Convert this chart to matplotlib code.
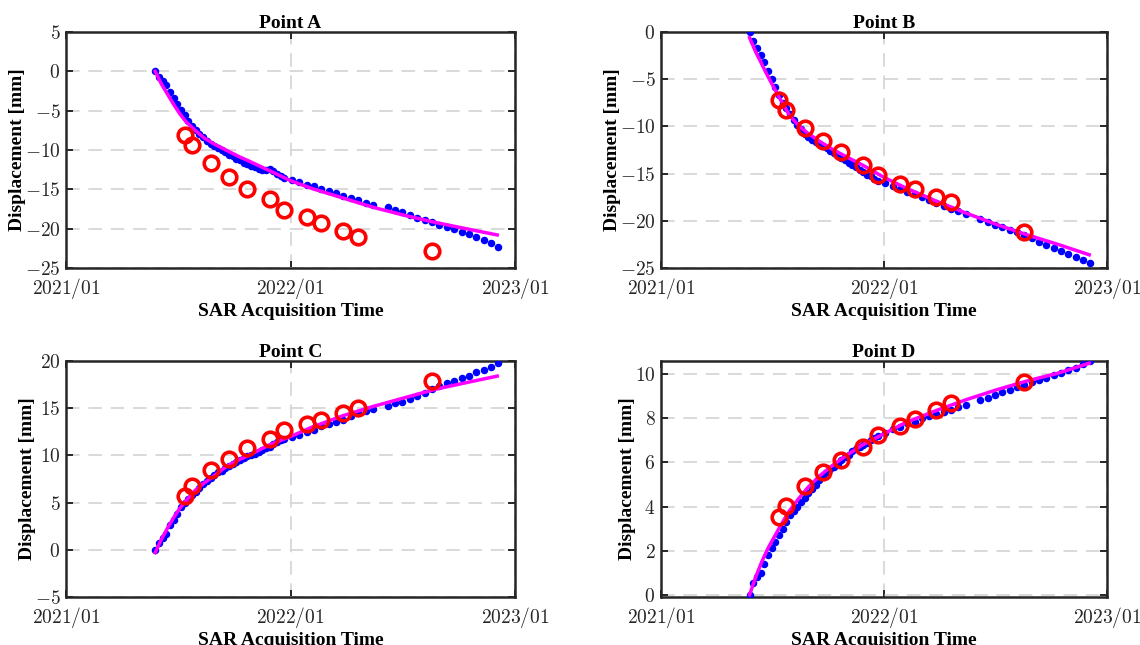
import numpy as np
import pandas as pd
import matplotlib
matplotlib.use('Agg')
import matplotlib.pyplot as plt
import matplotlib.dates as mdates
from matplotlib.ticker import FuncFormatter, MultipleLocator

plt.rcParams['font.family'] = ['Liberation Serif', 'DejaVu Serif']
plt.rcParams['mathtext.fontset'] = 'cm'

# SAR acquisition dates (blue time series)
sar_dates = [
    '2021-05-26', '2021-06-01', '2021-06-07', '2021-06-13', '2021-06-19', '2021-06-25',
    '2021-07-01', '2021-07-07', '2021-07-13', '2021-07-19', '2021-07-25', '2021-07-31',
    '2021-08-06', '2021-08-12', '2021-08-18', '2021-08-24', '2021-08-30', '2021-09-05',
    '2021-09-11', '2021-09-17', '2021-09-23', '2021-09-29', '2021-10-05', '2021-10-11',
    '2021-10-17', '2021-10-23', '2021-10-29', '2021-11-04', '2021-11-10', '2021-11-16',
    '2021-11-22', '2021-11-28', '2021-12-04', '2021-12-10', '2021-12-16', '2021-12-22',
    '2022-01-03', '2022-01-15', '2022-01-27', '2022-02-08', '2022-02-20', '2022-03-04',
    '2022-03-16', '2022-03-28', '2022-04-09', '2022-04-21', '2022-05-03', '2022-05-15',
    '2022-06-08', '2022-06-20', '2022-07-02', '2022-07-14', '2022-07-26', '2022-08-07',
    '2022-08-19', '2022-08-31', '2022-09-12', '2022-09-24', '2022-10-06', '2022-10-18',
    '2022-10-30', '2022-11-11', '2022-11-23', '2022-12-05',
]

sar_a = [0.0, -0.7, -1.2, -1.7, -2.6, -3.4, -4.1, -4.9, -5.6, -6.3, -6.9, -7.5,
         -8.0, -8.4, -8.8, -9.2, -9.5, -9.8, -10.0, -10.3, -10.6, -10.8, -11.1, -11.3,
         -11.6, -11.8, -12.0, -12.2, -12.4, -12.5, -12.6, -12.4, -12.7, -13.0, -13.3, -13.5,
         -13.8, -14.1, -14.4, -14.6, -14.9, -15.2, -15.5, -15.8, -16.1, -16.4, -16.7, -17.0,
         -17.3, -17.6, -17.9, -18.2, -18.6, -18.9, -19.2, -19.5, -19.8, -20.1, -20.4, -20.7,
         -21.0, -21.4, -21.8, -22.3]
sar_b = [0.0, -1.0, -1.7, -2.4, -3.2, -4.1, -5.0, -5.8, -6.7, -7.5, -8.1, -8.7,
         -9.3, -9.8, -10.3, -10.8, -11.1, -11.4, -11.7, -11.9, -12.1, -12.3, -12.6, -12.8,
         -13.1, -13.3, -13.6, -13.9, -14.1, -14.3, -14.6, -14.8, -15.1, -15.3, -15.6, -15.8,
         -16.0, -16.3, -16.6, -16.9, -17.2, -17.5, -17.8, -18.1, -18.4, -18.8, -19.0, -19.3,
         -19.8, -20.1, -20.4, -20.7, -21.0, -21.2, -21.5, -21.8, -22.2, -22.6, -22.9, -23.2,
         -23.5, -23.8, -24.1, -24.5]
sar_c = [0.0, 0.7, 1.2, 1.7, 2.6, 3.2, 3.8, 4.5, 5.0, 5.4, 5.8, 6.1,
         6.6, 7.0, 7.3, 7.6, 7.9, 8.2, 8.4, 8.7, 8.9, 9.1, 9.3, 9.5,
         9.7, 9.9, 10.0, 10.2, 10.4, 10.6, 10.8, 10.9, 11.2, 11.4, 11.6, 11.7,
         11.9, 12.2, 12.5, 12.7, 13.1, 13.3, 13.55, 13.8, 14.2, 14.5, 14.7, 14.95,
         15.25, 15.5, 15.7, 15.95, 16.3, 16.6, 17.0, 17.4, 17.7, 17.9, 18.15, 18.4,
         18.8, 19.1, 19.4, 19.8]
sar_d = [0.0, 0.55, 0.8, 1.0, 1.4, 1.8, 2.1, 2.4, 2.7, 3.0, 3.3, 3.6,
         3.8, 4.0, 4.2, 4.4, 4.6, 4.8, 5.0, 5.2, 5.4, 5.55, 5.7, 5.8,
         5.95, 6.1, 6.25, 6.35, 6.5, 6.6, 6.7, 6.8, 6.9, 7.0, 7.1, 7.2,
         7.35, 7.5, 7.63, 7.78, 7.85, 8.0, 8.1, 8.2, 8.3, 8.37, 8.52, 8.62,
         8.81, 8.93, 9.07, 9.19, 9.29, 9.41, 9.53, 9.63, 9.75, 9.85, 9.97, 10.07,
         10.2, 10.3, 10.45, 10.6]

# fitted model curve
fit_dates = ['2021-05-26', '2021-06-05', '2021-06-15', '2021-06-25', '2021-07-05', '2021-07-15',
             '2021-07-30', '2021-08-14', '2021-08-29', '2021-09-18', '2021-10-08', '2021-10-28',
             '2021-11-27', '2022-01-01', '2022-02-05', '2022-03-27', '2022-05-16', '2022-07-05',
             '2022-08-24', '2022-10-13', '2022-12-03']
fit_a = [0.0, -1.6, -2.9, -4.2, -5.4, -6.4, -7.5, -8.5, -9.2, -10.0, -10.8, -11.5,
         -12.6, -13.9, -14.9, -16.1, -17.3, -18.3, -19.2, -20.0, -20.8]
fit_b = [-0.6, -2.1, -3.4, -4.7, -5.9, -7.1, -8.8, -9.9, -10.7, -11.6, -12.4, -13.1,
         -14.1, -15.4, -16.5, -17.9, -19.2, -20.4, -21.5, -22.5, -23.6]
fit_c = [-0.3, 1.1, 2.3, 3.4, 4.4, 5.2, 6.3, 7.1, 7.8, 8.8, 9.5, 10.1,
         11.1, 12.0, 13.0, 14.2, 15.2, 16.1, 17.0, 17.7, 18.4]
fit_d = [0.0, 0.8, 1.5, 2.1, 2.6, 3.1, 3.8, 4.35, 4.85, 5.4, 5.85, 6.25,
         6.8, 7.3, 7.8, 8.35, 8.85, 9.3, 9.7, 10.05, 10.5]

# red check points
chk_dates = ['2021-07-13', '2021-07-25', '2021-08-24', '2021-09-23', '2021-10-23', '2021-11-28',
             '2021-12-22', '2022-01-27', '2022-02-20', '2022-03-28', '2022-04-21', '2022-08-19']
chk_a = [-8.1, -9.4, -11.7, -13.4, -14.9, -16.2, -17.6, -18.5, -19.3, -20.3, -21.1, -22.9]
chk_b = [-7.2, -8.3, -10.2, -11.5, -12.7, -14.1, -15.2, -16.1, -16.6, -17.5, -18.0, -21.2]
chk_c = [5.7, 6.8, 8.45, 9.65, 10.8, 11.7, 12.65, 13.3, 13.8, 14.5, 15.0, 17.9]
chk_d = [3.51, 4.02, 4.95, 5.55, 6.13, 6.69, 7.26, 7.66, 7.96, 8.4, 8.7, 9.63]

titles = ['Point A', 'Point B', 'Point C', 'Point D']
ylims = [(-25, 5), (-25, 0), (-5, 20), (-0.1, 10.6)]
ysteps = [5, 5, 5, 2]

sar_t = pd.to_datetime(sar_dates)
fit_t = pd.to_datetime(fit_dates)
chk_t = pd.to_datetime(chk_dates)

fig = plt.figure(figsize=(11.4, 6.45), dpi=100)
positions = [
    [0.0579, 0.5845, 0.3939, 0.3659],
    [0.5798, 0.5845, 0.3912, 0.3659],
    [0.0579, 0.0744, 0.3939, 0.3659],
    [0.5798, 0.0744, 0.3912, 0.3659],
]

ink = '#262626'
xfmt = FuncFormatter(lambda v, p: '$' + mdates.num2date(v).strftime('%Y/%m') + '$')
yfmt = FuncFormatter(lambda v, p: '$%g$' % v)

for pos, title, ylim, ystep, sar, fit, chk in zip(
        positions, titles, ylims, ysteps,
        [sar_a, sar_b, sar_c, sar_d],
        [fit_a, fit_b, fit_c, fit_d],
        [chk_a, chk_b, chk_c, chk_d]):
    ax = fig.add_axes(pos)
    ax.plot(sar_t, sar, 'o', color='blue', ms=4.4, mec='blue', zorder=3)
    ax.plot(fit_t, fit, '-', color='magenta', lw=2.5, zorder=4)
    ax.plot(chk_t, chk, 'o', mfc='none', mec='red', ms=10.5, mew=2.6, zorder=5)

    ax.set_xlim(pd.Timestamp('2021-01-01'), pd.Timestamp('2023-01-01'))
    ax.set_xticks(pd.to_datetime(['2021-01-01', '2022-01-01', '2023-01-01']))
    ax.xaxis.set_major_formatter(xfmt)
    ax.set_ylim(*ylim)
    ax.yaxis.set_major_locator(MultipleLocator(ystep))
    ax.yaxis.set_major_formatter(yfmt)

    ax.set_axisbelow(True)
    ax.grid(True, ls=(0, (7, 4.5)), color='#d9d9d9', lw=1.4)
    ax.tick_params(direction='in', top=True, right=True, length=5, width=1.4,
                   colors=ink, labelsize=14)
    ax.tick_params(axis='x', pad=6)
    ax.tick_params(axis='y', pad=4)
    for s in ax.spines.values():
        s.set_linewidth(1.8)
        s.set_color(ink)

    ax.set_title(title, fontsize=14, fontweight='bold', pad=3, color='black')
    ax.set_xlabel('SAR Acquisition Time', fontsize=14, fontweight='bold', labelpad=1)
    ax.set_ylabel('Displacement [mm]', fontsize=14, fontweight='bold', labelpad=-1)

fig.savefig('out.png', dpi=100, facecolor='white')
